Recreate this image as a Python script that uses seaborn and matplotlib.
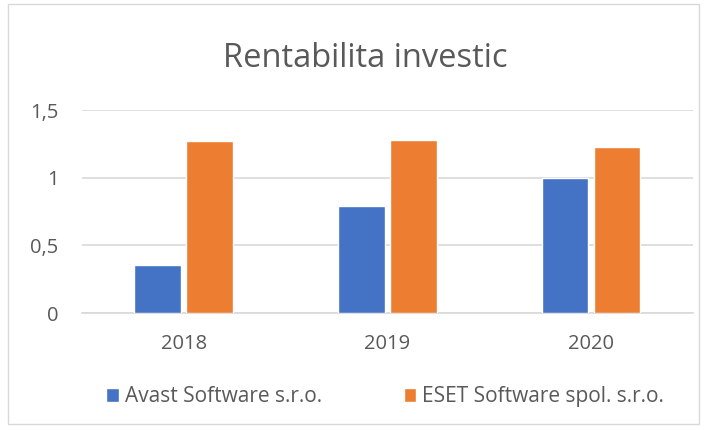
import pandas as pd
import matplotlib.pyplot as plt
import seaborn as sns
from matplotlib.patches import Rectangle

years = ["2018", "2019", "2020"]
avast = [0.355, 0.79, 1.0]
eset = [1.27, 1.28, 1.23]
companies = ["Avast Software s.r.o.", "ESET Software spol. s.r.o."]
yticks = [0, 0.5, 1, 1.5]
ytick_labels = ["0", "0,5", "1", "1,5"]

df = pd.DataFrame({
    "Rok": years * 2,
    "Hodnota": avast + eset,
    "Firma": [companies[0]] * 3 + [companies[1]] * 3,
})

sns.set_style("white")
plt.rcParams["font.family"] = ["Open Sans", "DejaVu Sans"]

fig = plt.figure(figsize=(7.07, 4.30), dpi=100)
ax = fig.add_axes([0.116, 0.272, 0.864, 0.472])

colors = ["#4472C4", "#ED7D31"]
sns.barplot(data=df, x="Rok", y="Hodnota", hue="Firma", palette=colors,
            saturation=1, width=0.51, gap=0.1, ax=ax, zorder=3, legend=True)

ax.set_ylim(0, 1.5)
ax.set_yticks(yticks)
ax.set_yticklabels(ytick_labels)
ax.yaxis.grid(True, color="#D9D9D9", linewidth=1.2, zorder=0)
ax.set_axisbelow(True)
for s in ["top", "right", "left"]:
    ax.spines[s].set_visible(False)
ax.spines["bottom"].set_color("#D9D9D9")
ax.spines["bottom"].set_linewidth(1.2)
ax.tick_params(axis="both", length=0, labelsize=14.5, colors="#595959")
ax.tick_params(axis="x", pad=15)
ax.tick_params(axis="y", pad=17)
ax.set_xlabel("")
ax.set_ylabel("")

fig.text(0.517, 0.865, "Rentabilita investic", ha="center", va="center",
         fontsize=23.5, color="#595959")

handles, labels = ax.get_legend_handles_labels()
ax.legend_.remove()
fig.legend(handles, labels, loc="center", bbox_to_anchor=(0.545, 0.077), ncol=2,
           frameon=False, fontsize=15, handlelength=0.6, handleheight=0.6,
           handletextpad=0.3, columnspacing=3.9, labelcolor="#595959")

fig.patches.append(Rectangle((0.012, 0.015), 0.976, 0.975, transform=fig.transFigure,
                             fill=False, edgecolor="#D9D9D9", linewidth=1))

fig.savefig("out.png", dpi=100)
